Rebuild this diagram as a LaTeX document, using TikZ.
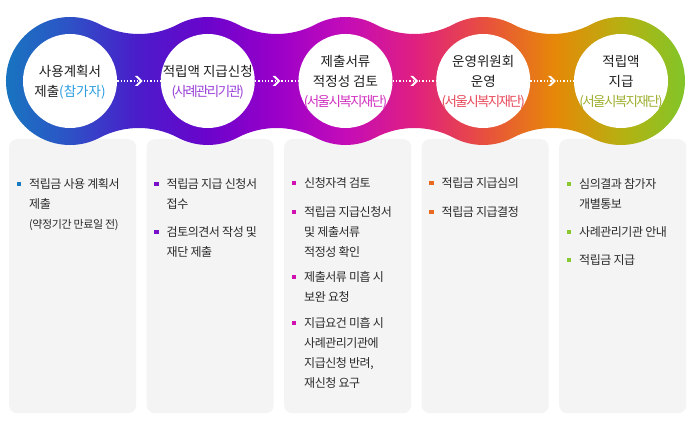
\documentclass[tikz,border=0pt]{standalone}
\usepackage{fontspec}
\newfontfamily\kr{Noto Sans CJK KR}
\newfontfamily\krt[LetterSpace=-4]{Noto Sans CJK KR}
\newfontfamily\krc[LetterSpace=-12]{Noto Sans CJK KR}
\usetikzlibrary{calc}
\definecolor{txt}{HTML}{1E1E1E}
\definecolor{itxt}{HTML}{2A2A2A}
\definecolor{cardbg}{HTML}{F4F4F4}
\definecolor{g0}{HTML}{1579BF}
\definecolor{g1}{HTML}{2C54C6}
\definecolor{g2}{HTML}{4A1DCA}
\definecolor{g3}{HTML}{6A04CC}
\definecolor{g4}{HTML}{9A00C9}
\definecolor{g5}{HTML}{C40CB8}
\definecolor{g6}{HTML}{E0207F}
\definecolor{g7}{HTML}{E8503E}
\definecolor{g8}{HTML}{E68808}
\definecolor{g9}{HTML}{B4B212}
\definecolor{g10}{HTML}{7AC82C}
\definecolor{p1}{HTML}{2A9DE0}
\definecolor{p2}{HTML}{9A40D8}
\definecolor{p3}{HTML}{D030C0}
\definecolor{p4}{HTML}{E84A5A}
\definecolor{p5}{HTML}{A0B030}
\definecolor{b1}{HTML}{1A7AC0}
\definecolor{b2}{HTML}{7A10C8}
\definecolor{b3}{HTML}{D010B0}
\definecolor{b4}{HTML}{E86A20}
\definecolor{b5}{HTML}{88C830}
\pgfdeclarehorizontalshading{ringgrad}{100bp}{color(0bp)=(g0); color(25bp)=(g0); color(30bp)=(g1); color(35bp)=(g2); color(40bp)=(g3); color(45bp)=(g4); color(50bp)=(g5); color(55bp)=(g6); color(60bp)=(g7); color(65bp)=(g8); color(70bp)=(g9); color(75bp)=(g10); color(100bp)=(g10)}
\begin{document}
\begin{tikzpicture}[x=1pt,y=1pt,
  wcirc/.style={circle,fill=white,minimum size=94pt,inner sep=0pt},
  ctext/.style={align=center,text=txt,font=\kr\fontsize{13.5}{20}\selectfont,inner sep=0pt},
  card/.style={fill=cardbg,rounded corners=8pt,minimum width=127pt,minimum height=274pt,anchor=north west,inner sep=0pt},
  item/.style={anchor=north west,align=left,text=itxt,font=\krt\fontsize{12}{20}\selectfont,inner sep=0pt},
  bul/.style={minimum size=4.5pt,inner sep=0pt,fill=#1},
  conn/.style={white,line width=1.3pt,dash pattern=on 1.3pt off 2pt},
  chev/.pic={\fill[white] (-4,5) -- (-1.2,5) -- (3.8,0) -- (-1.2,-5) -- (-4,-5) -- (1,0) -- cycle;}
]
\useasboundingbox (0,0) rectangle (696,425);
\fill[white] (0,0) rectangle (696,425);

% cards
\node[card] (k1) at (9,286) {};
\node[card] (k2) at (146.5,286) {};
\node[card] (k3) at (284,286) {};
\node[card] (k4) at (421.5,286) {};
\node[card] (k5) at (559,286) {};

% band
\coordinate (C1) at (70,344);
\coordinate (C2) at (207.75,344);
\coordinate (C3) at (345.5,344);
\coordinate (C4) at (483.25,344);
\coordinate (C5) at (621,344);
\def\ra{64}\def\rf{84.02}\def\ta{62.27}
\path[shading=ringgrad] ($(C1)+(\ta:\ra)$)
  arc[start angle=180+\ta, end angle=360-\ta, radius=\rf]
  arc[start angle=180-\ta, end angle=\ta, radius=\ra]
  arc[start angle=180+\ta, end angle=360-\ta, radius=\rf]
  arc[start angle=180-\ta, end angle=\ta, radius=\ra]
  arc[start angle=180+\ta, end angle=360-\ta, radius=\rf]
  arc[start angle=180-\ta, end angle=\ta, radius=\ra]
  arc[start angle=180+\ta, end angle=360-\ta, radius=\rf]
  arc[start angle=180-\ta, end angle=-180+\ta, radius=\ra]
  arc[start angle=\ta, end angle=180-\ta, radius=\rf]
  arc[start angle=-\ta, end angle=-180+\ta, radius=\ra]
  arc[start angle=\ta, end angle=180-\ta, radius=\rf]
  arc[start angle=-\ta, end angle=-180+\ta, radius=\ra]
  arc[start angle=\ta, end angle=180-\ta, radius=\rf]
  arc[start angle=-\ta, end angle=-180+\ta, radius=\ra]
  arc[start angle=\ta, end angle=180-\ta, radius=\rf]
  arc[start angle=-\ta, end angle=-360+\ta, radius=\ra] -- cycle;

% white circles
\node[wcirc] (c1) at (C1) {};
\node[wcirc] (c2) at (C2) {};
\node[wcirc] (c3) at (C3) {};
\node[wcirc] (c4) at (C4) {};
\node[wcirc] (c5) at (C5) {};

% circle texts
\node[ctext] (t1) at ($(C1)+(0,-1)$) {사용계획서\\제출{\color{p1}(참가자)}};
\node[ctext] (t2) at ($(C2)+(0,-1)$) {적립액 지급신청\\{\krc\color{p2}(사례관리기관)}};
\node[ctext] (t3) at ($(C3)+(0,-1)$) {제출서류\\적정성 검토\\{\krc\color{p3}(서울시복지재단)}};
\node[ctext] (t4) at ($(C4)+(0,-1)$) {운영위원회\\운영\\{\krc\color{p4}(서울시복지재단)}};
\node[ctext] (t5) at ($(C5)+(0,-1)$) {적립액\\지급\\{\krc\color{p5}(서울시복지재단)}};

% connectors
\foreach \a/\b in {c1/c2,c2/c3,c3/c4,c4/c5}{
  \draw[conn] (\a) -- (\b) coordinate[midway] (m\a);
  \pic at (m\a) {chev};
}

% card 1
\node[bul=b1] (q1a) at (19,241) {};
\node[item] (i1a) at (29,246.5) {적립금 사용 계획서\\제출\\{\fontsize{11}{20}\selectfont(약정기간 만료일 전)}};
% card 2
\node[bul=b2] (q2a) at (156.5,241) {};
\node[item] (i2a) at (166.5,246.5) {적립금 지급 신청서\\접수};
\node[bul=b2] (q2b) at (156.5,193) {};
\node[item] (i2b) at (166.5,198.5) {검토의견서 작성 및\\재단 제출};
% card 3
\node[bul=b3] (q3a) at (294,242) {};
\node[item] (i3a) at (304,247.5) {신청자격 검토};
\node[bul=b3] (q3b) at (294,213) {};
\node[item] (i3b) at (304,218.5) {적립금 지급신청서\\및 제출서류\\적정성 확인};
\node[bul=b3] (q3c) at (294,148) {};
\node[item] (i3c) at (304,153.5) {제출서류 미흡 시\\보완 요청};
\node[bul=b3] (q3d) at (294,102) {};
\node[item] (i3d) at (304,107.5) {지급요건 미흡 시\\사례관리기관에\\지급신청 반려,\\재신청 요구};
% card 4
\node[bul=b4] (q4a) at (431.5,242) {};
\node[item] (i4a) at (441.5,247.5) {적립금 지급심의};
\node[bul=b4] (q4b) at (431.5,213) {};
\node[item] (i4b) at (441.5,218.5) {적립금 지급결정};
% card 5
\node[bul=b5] (q5a) at (569,241) {};
\node[item] (i5a) at (579,246.5) {심의결과 참가자\\개별통보};
\node[bul=b5] (q5b) at (569,193) {};
\node[item] (i5b) at (579,198.5) {사례관리기관 안내};
\node[bul=b5] (q5c) at (569,165) {};
\node[item] (i5c) at (579,170.5) {적립금 지급};
\end{tikzpicture}
\end{document}
